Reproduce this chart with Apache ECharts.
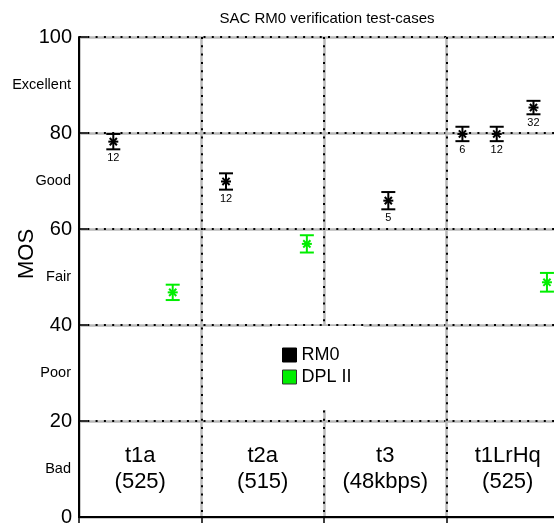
<!DOCTYPE html>
<html lang="en">
  <head>
    <meta charset="utf-8" />
    <title>SAC RM0 verification test-cases</title>
    <style>
      * {
        margin: 0;
        padding: 0;
      }
      #chart-container {
        position: relative;
        height: 100vh;
        width: 100vw;
        overflow: hidden;
        background: #fff;
      }
    </style>
  </head>
  <body>
    <div id="chart-container"></div>
    <script src="https://fastly.jsdelivr.net/npm/echarts@6/dist/echarts.min.js"></script>
    <script>
      // test cases (one column each), label drawn inside the "Bad" band
      const groups = ["t1a\n(525)", "t2a\n(515)", "t3\n(48kbps)", "t1LrHq\n(525)"];
      const groupLabelMos = 10;
      const quality = ["Bad", "Poor", "Fair", "Good", "Excellent"];

      // RM0: x position inside the columns, mean MOS, 95% interval, listeners
      const rm0X = [0.28, 1.2, 2.525, 3.13, 3.41, 3.71];
      const rm0Mos = [78.2, 69.9, 65.9, 79.8, 79.8, 85.3];
      const rm0Ci = [1.6, 1.7, 1.8, 1.5, 1.5, 1.4];
      const rm0N = [12, 12, 5, 6, 12, 32];

      // DPL II
      const dplX = [0.765, 1.86, 3.82];
      const dplMos = [46.8, 56.9, 48.9];
      const dplCi = [1.6, 1.8, 1.95];

      const FONT = "Liberation Sans";
      const GREEN = "#00ee00";

      var dom = document.getElementById("chart-container");
      var myChart = echarts.init(dom, null, { renderer: "canvas" });

      function errRender(color) {
        return function (params, api) {
          var x = api.value(0),
            y = api.value(1),
            e = api.value(2),
            n = api.value(3);
          var c = api.coord([x, y]);
          var t = api.coord([x, y + e]);
          var b = api.coord([x, y - e]);
          var cap = 7,
            s = 5,
            d = 3.6;
          var st = { stroke: color, lineWidth: 2 };
          var line = function (x1, y1, x2, y2) {
            return { type: "line", shape: { x1: x1, y1: y1, x2: x2, y2: y2 }, style: st };
          };
          var kids = [
            line(t[0], t[1], b[0], b[1]),
            line(t[0] - cap, t[1], t[0] + cap, t[1]),
            line(b[0] - cap, b[1], b[0] + cap, b[1]),
            line(c[0] - s, c[1], c[0] + s, c[1]),
            line(c[0] - d, c[1] - d, c[0] + d, c[1] + d),
            line(c[0] - d, c[1] + d, c[0] + d, c[1] - d),
          ];
          if (n != null && !isNaN(n)) {
            kids.push({
              type: "text",
              style: {
                x: b[0],
                y: b[1] + 9,
                text: String(n),
                fill: "#000",
                font: "11px " + FONT,
                align: "center",
                verticalAlign: "middle",
              },
            });
          }
          return { type: "group", children: kids };
        };
      }

      var rm0Data = rm0X.map((x, i) => [x, rm0Mos[i], rm0Ci[i], rm0N[i]]);
      var dplData = dplX.map((x, i) => [x, dplMos[i], dplCi[i], NaN]);
      var groupData = groups.map((g, i) => ({ name: g, value: [i + 0.5, groupLabelMos] }));

      var option = {
        animation: false,
        title: {
          text: "SAC RM0 verification test-cases",
          left: 322,
          textAlign: "center",
          top: 6,
          textStyle: { fontFamily: FONT, fontSize: 15, fontWeight: "normal", color: "#000" },
        },
        legend: {
          left: 272,
          top: 326,
          orient: "vertical",
          backgroundColor: "#fff",
          padding: [20, 12, 24, 10],
          itemWidth: 14,
          itemHeight: 14,
          itemGap: 4,
          textStyle: { fontFamily: FONT, fontSize: 18, color: "#000", lineHeight: 18 },
          data: [
            { name: "RM0", icon: "rect", itemStyle: { color: "#000", borderColor: "#000", borderWidth: 1 } },
            { name: "DPL II", icon: "rect", itemStyle: { color: GREEN, borderColor: "#333", borderWidth: 1 } },
          ],
        },
        grid: {
          left: 79,
          right: -15,
          top: 37,
          bottom: 6,
          containLabel: false,
          outerBoundsMode: "none",
        },
        xAxis: [
          {
            type: "value",
            position: "bottom",
            min: 0,
            max: groups.length,
            interval: 1,
            axisLabel: { show: false },
            axisLine: { lineStyle: { color: "#000", width: 2 } },
            axisTick: { show: false },
            splitLine: { show: true, lineStyle: { color: "#b8b8b8", width: 2.5 } },
          },
          {
            type: "value",
            position: "top",
            min: 0,
            max: groups.length,
            interval: 1,
            axisLabel: { show: false },
            axisLine: { lineStyle: { color: "#000", width: 2 } },
            axisTick: { inside: true, length: 8, lineStyle: { color: "#000", width: 1.5 } },
            splitLine: { show: true, lineStyle: { color: "#000", width: 2, type: [2, 6.3] } },
          },
        ],
        yAxis: [
          {
            type: "value",
            position: "left",
            min: 0,
            max: 100,
            interval: 20,
            name: "MOS",
            nameLocation: "middle",
            nameGap: 41,
            nameMoveOverlap: false,
            nameTextStyle: { fontFamily: FONT, fontSize: 22, color: "#000", padding: [0, 0, 0, 46] },
            axisLabel: { fontFamily: FONT, fontSize: 20, color: "#000", margin: 7 },
            axisLine: { show: true, lineStyle: { color: "#000", width: 2 } },
            axisTick: { show: true, inside: true, length: 8, lineStyle: { color: "#000", width: 1.5 } },
            splitLine: { show: true, lineStyle: { color: "#b8b8b8", width: 2.5 } },
          },
          {
            type: "value",
            position: "left",
            min: 0,
            max: 100,
            interval: 20,
            axisLabel: { show: false },
            axisLine: { show: false },
            axisTick: { show: false },
            splitLine: { show: true, lineStyle: { color: "#000", width: 2, type: [2, 6.3] } },
          },
          {
            type: "value",
            position: "left",
            min: 0,
            max: 100,
            interval: 10,
            axisLabel: {
              fontFamily: FONT,
              fontSize: 14.5,
              color: "#000",
              margin: 8,
              formatter: function (v) {
                return v % 20 === 10 ? quality[(v - 10) / 20] : "";
              },
            },
            axisLine: { show: false },
            axisTick: { show: false },
            splitLine: { show: false },
          },
        ],
        series: [
          {
            name: "RM0",
            type: "custom",
            xAxisIndex: 0,
            yAxisIndex: 0,
            itemStyle: { color: "#000" },
            renderItem: errRender("#000"),
            data: rm0Data,
            z: 5,
          },
          {
            name: "DPL II",
            type: "custom",
            xAxisIndex: 0,
            yAxisIndex: 0,
            itemStyle: { color: GREEN },
            renderItem: errRender(GREEN),
            data: dplData,
            z: 5,
          },
          {
            name: "labels",
            type: "custom",
            xAxisIndex: 0,
            yAxisIndex: 0,
            renderItem: function (params, api) {
              var p = api.coord([api.value(0), api.value(1)]);
              return {
                type: "text",
                style: {
                  x: p[0],
                  y: p[1],
                  text: groups[params.dataIndex],
                  fill: "#000",
                  font: "22px " + FONT,
                  lineHeight: 26,
                  align: "center",
                  verticalAlign: "middle",
                },
              };
            },
            data: groupData,
            z: 4,
          },
        ],
      };

      myChart.setOption(option);
      window.addEventListener("resize", myChart.resize);
    </script>
  </body>
</html>
